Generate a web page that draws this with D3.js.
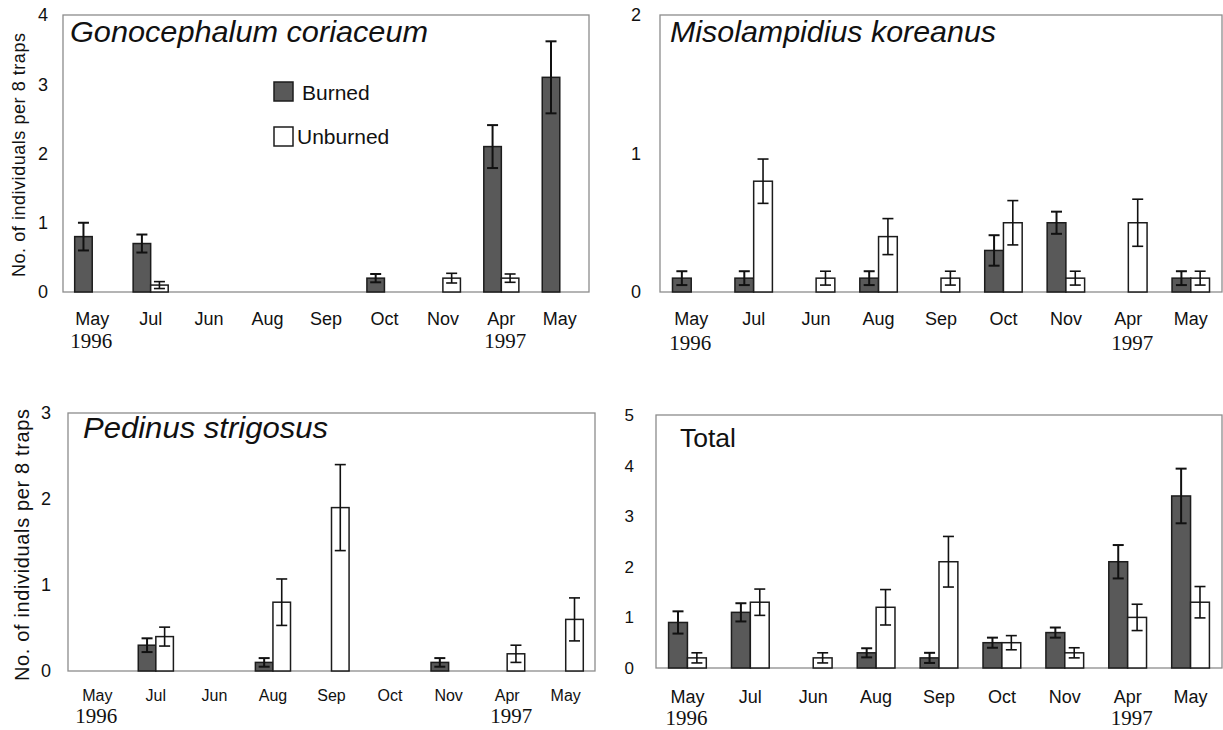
<!DOCTYPE html>
<html>
<head>
<meta charset="utf-8">
<script src="https://cdn.jsdelivr.net/npm/d3@7"></script>
<style>
  html, body { margin: 0; padding: 0; background: #fff; }
  svg { display: block; }
</style>
</head>
<body>
<svg id="chart" width="1223" height="730"></svg>
<script>
// ---------------- DATA ----------------
const months = ["May", "Jul", "Jun", "Aug", "Sep", "Oct", "Nov", "Apr", "May"];
const yearLabels = [{ idx: 0, text: "1996" }, { idx: 7, text: "1997" }];
const seriesNames = ["Burned", "Unburned"];

const gonoBurned      = [0.8, 0.7, 0, 0, 0, 0.2, 0, 2.1, 3.1];
const gonoBurnedErr   = [0.2, 0.13, 0, 0, 0, 0.06, 0, 0.31, 0.52];
const gonoUnburned    = [0, 0.1, 0, 0, 0, 0, 0.2, 0.2, 0];
const gonoUnburnedErr = [0, 0.05, 0, 0, 0, 0, 0.07, 0.06, 0];

const misoBurned      = [0.1, 0.1, 0, 0.1, 0, 0.3, 0.5, 0, 0.1];
const misoBurnedErr   = [0.05, 0.05, 0, 0.05, 0, 0.11, 0.08, 0, 0.05];
const misoUnburned    = [0, 0.8, 0.1, 0.4, 0.1, 0.5, 0.1, 0.5, 0.1];
const misoUnburnedErr = [0, 0.16, 0.05, 0.13, 0.05, 0.16, 0.05, 0.17, 0.05];

const pediBurned      = [0, 0.3, 0, 0.1, 0, 0, 0.1, 0, 0];
const pediBurnedErr   = [0, 0.08, 0, 0.05, 0, 0, 0.05, 0, 0];
const pediUnburned    = [0, 0.4, 0, 0.8, 1.9, 0, 0, 0.2, 0.6];
const pediUnburnedErr = [0, 0.11, 0, 0.27, 0.5, 0, 0, 0.1, 0.25];

const totBurned       = [0.9, 1.1, 0, 0.3, 0.2, 0.5, 0.7, 2.1, 3.4];
const totBurnedErr    = [0.22, 0.18, 0, 0.09, 0.1, 0.1, 0.1, 0.33, 0.54];
const totUnburned     = [0.2, 1.3, 0.2, 1.2, 2.1, 0.5, 0.3, 1.0, 1.3];
const totUnburnedErr  = [0.1, 0.26, 0.1, 0.35, 0.5, 0.14, 0.1, 0.26, 0.31];

const yAxisTitle = "No. of individuals per 8 traps";

// ---------------- LAYOUT ----------------
const SANS = "'Liberation Sans', Arial, Helvetica, sans-serif";
const SERIF = "'Liberation Serif', 'Times New Roman', serif";
const BURN_FILL = "#595959";
const STROKE = "#1c1c1c";

const panels = [
  { title: "Gonocephalum coriaceum", italic: true, titleSize: 30, titleX: 70, titleY: 42, titleLen: 358,
    burned: gonoBurned, burnedErr: gonoBurnedErr, unburned: gonoUnburned, unburnedErr: gonoUnburnedErr,
    ymax: 4, left: 63, right: 589, top: 15, bottom: 292, tickGap: 15, yFont: 18,
    xFont: 18, xLabelY: 33, yearY: 56, yLabel: { x: 25, size: 18, len: 244, cy: 155 }, legend: true },
  { title: "Misolampidius koreanus", italic: true, titleSize: 30, titleX: 670, titleY: 42, titleLen: 326,
    burned: misoBurned, burnedErr: misoBurnedErr, unburned: misoUnburned, unburnedErr: misoUnburnedErr,
    ymax: 2, left: 660, right: 1222, top: 15, bottom: 292, tickGap: 19, yFont: 18,
    xFont: 18, xLabelY: 33, yearY: 58 },
  { title: "Pedinus strigosus", italic: true, titleSize: 30, titleX: 83, titleY: 438, titleLen: 245,
    burned: pediBurned, burnedErr: pediBurnedErr, unburned: pediUnburned, unburnedErr: pediUnburnedErr,
    ymax: 3, left: 68, right: 595, top: 413, bottom: 671, tickGap: 17, yFont: 18,
    xFont: 16, xLabelY: 30, yearY: 52, yLabel: { x: 29, size: 20, len: 272, cy: 545 } },
  { title: "Total", italic: false, titleSize: 25, titleX: 680, titleY: 447, titleLen: 56,
    burned: totBurned, burnedErr: totBurnedErr, unburned: totUnburned, unburnedErr: totUnburnedErr,
    ymax: 5, left: 656, right: 1222, top: 415, bottom: 668, tickGap: 22, yFont: 17,
    xFont: 18, xLabelY: 35, yearY: 57 }
];

const svg = d3.select("#chart");

panels.forEach(p => {
  const g = svg.append("g");
  const x = d3.scaleBand().domain(d3.range(months.length)).range([p.left, p.right]).paddingInner(0).paddingOuter(0);
  const y = d3.scaleLinear().domain([0, p.ymax]).range([p.bottom, p.top]);
  const barW = x.bandwidth() * 0.3;

  // frame
  g.append("rect")
    .attr("x", p.left).attr("y", p.top)
    .attr("width", p.right - p.left).attr("height", p.bottom - p.top)
    .attr("fill", "none").attr("stroke", "#8c8c8c").attr("stroke-width", 1.3);

  // y axis
  const yAx = g.append("g").attr("transform", `translate(${p.left},0)`)
    .call(d3.axisLeft(y).tickValues(d3.range(0, p.ymax + 1)).tickFormat(d3.format("d")).tickSize(0).tickPadding(p.tickGap));
  yAx.select(".domain").remove();
  yAx.selectAll("text").attr("font-family", SANS).attr("font-size", p.yFont).attr("fill", "#111");

  // x axis
  const xAx = g.append("g").attr("transform", `translate(0,${p.bottom})`)
    .call(d3.axisBottom(x).tickFormat(i => months[i]).tickSize(0));
  xAx.select(".domain").remove();
  xAx.selectAll("text").attr("font-family", SANS).attr("font-size", p.xFont).attr("fill", "#111")
    .attr("y", p.xLabelY).attr("dy", 0);

  // years
  g.selectAll("text.year").data(yearLabels).join("text")
    .attr("class", "year")
    .attr("x", d => x(d.idx) + x.bandwidth() / 2 + (d.idx === 7 ? 4 : -1))
    .attr("y", p.bottom + p.yearY)
    .attr("text-anchor", "middle")
    .attr("font-family", SERIF).attr("font-size", 21).attr("fill", "#111")
    .text(d => d.text);

  // bars
  const rows = months.map((m, i) => ({ i, b: p.burned[i], be: p.burnedErr[i], u: p.unburned[i], ue: p.unburnedErr[i] }));
  const center = i => x(i) + x.bandwidth() / 2;

  rows.filter(d => d.b > 0).forEach(d => {
    g.append("rect").attr("x", center(d.i) - barW).attr("y", y(d.b))
      .attr("width", barW).attr("height", y(0) - y(d.b))
      .attr("fill", BURN_FILL).attr("stroke", STROKE).attr("stroke-width", 1.5);
  });
  rows.filter(d => d.u > 0).forEach(d => {
    g.append("rect").attr("x", center(d.i)).attr("y", y(d.u))
      .attr("width", barW).attr("height", y(0) - y(d.u))
      .attr("fill", "#fff").attr("stroke", STROKE).attr("stroke-width", 1.5);
  });

  // error bars
  const cap = 5.5;
  function errBar(cx, v, e, w) {
    if (!(v > 0) || !(e > 0)) return;
    const y1 = y(v + e), y2 = y(v - e);
    g.append("line").attr("x1", cx).attr("x2", cx).attr("y1", y1).attr("y2", y2)
      .attr("stroke", "#111").attr("stroke-width", w);
    [y1, y2].forEach(yy => g.append("line").attr("x1", cx - cap).attr("x2", cx + cap)
      .attr("y1", yy).attr("y2", yy).attr("stroke", "#111").attr("stroke-width", w));
  }
  rows.forEach(d => {
    errBar(center(d.i) - barW / 2, d.b, d.be, 2);
    errBar(center(d.i) + barW / 2, d.u, d.ue, 1.6);
  });

  // title
  g.append("text").attr("x", p.titleX).attr("y", p.titleY)
    .attr("font-family", SANS).attr("font-size", p.titleSize)
    .attr("font-style", p.italic ? "italic" : "normal").attr("fill", "#111")
    .attr("textLength", p.titleLen).attr("lengthAdjust", "spacingAndGlyphs")
    .text(p.title);

  // y label
  if (p.yLabel) {
    g.append("text")
      .attr("transform", `translate(${p.yLabel.x},${p.yLabel.cy}) rotate(-90)`)
      .attr("text-anchor", "middle")
      .attr("font-family", SANS).attr("font-size", p.yLabel.size).attr("fill", "#111")
      .attr("textLength", p.yLabel.len).attr("lengthAdjust", "spacing")
      .text(yAxisTitle);
  }

  // legend
  if (p.legend) {
    const lg = g.append("g");
    const items = [
      { name: seriesNames[0], fill: BURN_FILL, yTop: 82, tx: 302, ty: 100 },
      { name: seriesNames[1], fill: "#fff", yTop: 127, tx: 297, ty: 144 }
    ];
    items.forEach(it => {
      lg.append("rect").attr("x", 274).attr("y", it.yTop).attr("width", 19).attr("height", 19)
        .attr("fill", it.fill).attr("stroke", STROKE).attr("stroke-width", 1.5);
      lg.append("text").attr("x", it.tx).attr("y", it.ty)
        .attr("font-family", SANS).attr("font-size", 21).attr("fill", "#111").text(it.name);
    });
  }
});
</script>
</body>
</html>
